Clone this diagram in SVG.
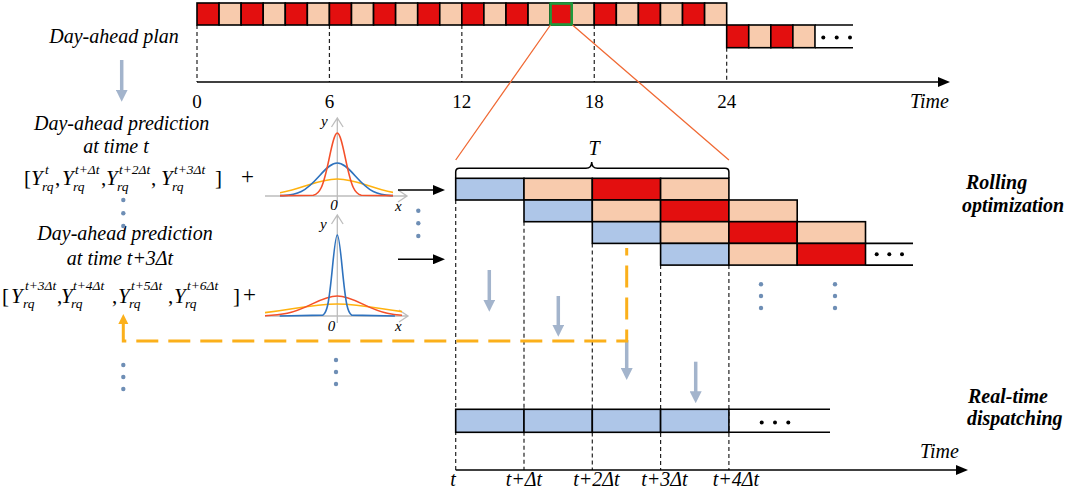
<svg xmlns="http://www.w3.org/2000/svg" width="1072" height="490" viewBox="0 0 1072 490">
<defs>
<style>
.r{fill:#E30F0F;stroke:#000;stroke-width:1.6}
.p{fill:#F8CBAD;stroke:#000;stroke-width:1.6}
.b{fill:#AEC6E8;stroke:#000;stroke-width:1.6}
.ln{fill:none;stroke:#000;stroke-width:1.6}
.dash{fill:none;stroke:#222;stroke-width:1.2;stroke-dasharray:4 3}
.ax{fill:none;stroke:#000;stroke-width:1.5}
.gax{fill:none;stroke:#BDBDBD;stroke-width:1.3}
.ga{fill:none;stroke:#A3B4CC;stroke-width:3.5}
.dot{fill:#6E8EB5}
.bdot{fill:#000}
text{font-family:'Liberation Serif','Times New Roman',Tinos,'DejaVu Serif',serif;fill:#000}
.t{font-style:italic;font-size:20px}
.n{font-size:19px}
.bi{font-style:italic;font-weight:bold;font-size:20px}
.Y{font-style:italic;font-size:21px}
.s{font-size:13.5px}
.up{font-style:normal}
.gl{font-style:italic;font-size:15px}
.gc{fill:none;stroke-width:1.6;vector-effect:non-scaling-stroke}
</style>
<marker id="ab" viewBox="0 0 12 10" refX="1" refY="5" markerWidth="12" markerHeight="10" markerUnits="userSpaceOnUse" orient="auto"><path d="M0,0L12,5L0,10z" fill="#000"/></marker>
<marker id="ag" viewBox="0 0 12 12" refX="3" refY="6" markerWidth="12" markerHeight="12" markerUnits="userSpaceOnUse" orient="auto"><path d="M0,0L12,6L0,12z" fill="#A3B4CC"/></marker>
<marker id="ao" viewBox="0 0 10 10" refX="2" refY="5" markerWidth="10" markerHeight="11" markerUnits="userSpaceOnUse" orient="auto"><path d="M0,0L10,5L0,10z" fill="#FBB01B"/></marker>
<path id="gs" class="gc" d="M-12,0L-3,0.0111C-2.667,0.0222 -2.333,0.0451 -2,0.1353C-1.667,0.2255 -1.333,0.4043 -1,0.6065C-0.667,0.8087 -0.333,1 0,1C0.333,1 0.667,0.8087 1,0.6065C1.333,0.4043 1.667,0.2255 2,0.1353C2.333,0.0451 2.667,0.0222 3,0.0111L12,0"/>
<clipPath id="c1"><rect x="280" y="100" width="113" height="100"/></clipPath>
<clipPath id="c2"><rect x="265" y="220" width="137" height="100"/></clipPath>
</defs>
<rect width="1072" height="490" fill="#fff"/>

<g id="day-ahead-plan">
<g id="grid-top">
<path class="dash" d="M197,25V82M329.42,25V82M461.84,25V82M594.26,25V82M726.68,47.7V82"/>
</g>
<rect class="r" x="197" y="3" width="22.07" height="22"/>
<rect class="p" x="219.07" y="3" width="22.07" height="22"/>
<rect class="r" x="241.14" y="3" width="22.07" height="22"/>
<rect class="p" x="263.21" y="3" width="22.07" height="22"/>
<rect class="r" x="285.28" y="3" width="22.07" height="22"/>
<rect class="p" x="307.35" y="3" width="22.07" height="22"/>
<rect class="r" x="329.42" y="3" width="22.07" height="22"/>
<rect class="p" x="351.49" y="3" width="22.07" height="22"/>
<rect class="r" x="373.56" y="3" width="22.07" height="22"/>
<rect class="p" x="395.63" y="3" width="22.07" height="22"/>
<rect class="r" x="417.7" y="3" width="22.07" height="22"/>
<rect class="p" x="439.77" y="3" width="22.07" height="22"/>
<rect class="r" x="461.84" y="3" width="22.07" height="22"/>
<rect class="p" x="483.91" y="3" width="22.07" height="22"/>
<rect class="r" x="505.98" y="3" width="22.07" height="22"/>
<rect class="p" x="528.05" y="3" width="22.07" height="22"/>
<rect class="r" x="550.12" y="3" width="22.07" height="22"/>
<rect class="p" x="572.19" y="3" width="22.07" height="22"/>
<rect class="r" x="594.26" y="3" width="22.07" height="22"/>
<rect class="p" x="616.33" y="3" width="22.07" height="22"/>
<rect class="r" x="638.4" y="3" width="22.07" height="22"/>
<rect class="p" x="660.47" y="3" width="22.07" height="22"/>
<rect class="r" x="682.54" y="3" width="22.07" height="22"/>
<rect class="p" x="704.61" y="3" width="22.07" height="22"/>
<rect class="r" x="726.68" y="25" width="22.07" height="22.7"/>
<rect class="p" x="748.75" y="25" width="22.07" height="22.7"/>
<rect class="r" x="770.82" y="25" width="22.07" height="22.7"/>
<rect class="p" x="792.89" y="25" width="22.07" height="22.7"/>
<path class="ln" d="M814.96,25H853M814.96,47.7H853"/>
<circle class="bdot" cx="823.3" cy="37.5" r="2"/><circle class="bdot" cx="836.7" cy="37.5" r="2"/><circle class="bdot" cx="850" cy="37.5" r="2"/>
<rect x="550.6" y="3.5" width="21.1" height="21" fill="#E30F0F" stroke="#1E9A3C" stroke-width="2.6"/>
<path class="ax" d="M197,82H939" marker-end="url(#ab)"/>
<text class="n" text-anchor="middle" x="197" y="108">0</text>
<text class="n" text-anchor="middle" x="329.4" y="108">6</text>
<text class="n" text-anchor="middle" x="461.8" y="108">12</text>
<text class="n" text-anchor="middle" x="594.3" y="108">18</text>
<text class="n" text-anchor="middle" x="726.7" y="108">24</text>
<text class="t" x="910" y="108" font-size="19">Time</text>
</g>

<g id="left-text">
<text class="t" text-anchor="middle" x="114" y="43">Day-ahead plan</text>
<text class="t" text-anchor="middle" x="121.7" y="130">Day-ahead prediction</text>
<text class="t" text-anchor="middle" x="116" y="153">at time t</text>
<text class="Y"><tspan class="up" x="24" y="185">[</tspan><tspan x="31" y="185">Y</tspan><tspan class="s" x="45" y="174">t</tspan><tspan class="s" x="42" y="191">rq</tspan><tspan class="up" x="55" y="185">,</tspan><tspan x="62" y="185">Y</tspan><tspan class="s" x="75" y="174">t+Δt</tspan><tspan class="s" x="73" y="191">rq</tspan><tspan class="up" x="101" y="185">,</tspan><tspan x="106" y="185">Y</tspan><tspan class="s" x="119" y="174">t+2Δt</tspan><tspan class="s" x="117" y="191">rq</tspan><tspan class="up" x="151" y="185">,</tspan><tspan x="161" y="185">Y</tspan><tspan class="s" x="174" y="174">t+3Δt</tspan><tspan class="s" x="172" y="191">rq</tspan><tspan class="up" x="215" y="185">]</tspan><tspan class="up" x="241" y="184" font-size="23">+</tspan></text>
<text class="t" text-anchor="middle" x="125" y="240">Day-ahead prediction</text>
<text class="t" text-anchor="middle" x="120" y="265">at time t+3Δt</text>
<text class="Y"><tspan class="up" x="2" y="303">[</tspan><tspan x="11" y="303">Y</tspan><tspan class="s" x="25" y="290">t+3Δt</tspan><tspan class="s" x="23" y="308">rq</tspan><tspan class="up" x="57" y="303">,</tspan><tspan x="61" y="303">Y</tspan><tspan class="s" x="73" y="290">t+4Δt</tspan><tspan class="s" x="71" y="308">rq</tspan><tspan class="up" x="112" y="303">,</tspan><tspan x="118" y="303">Y</tspan><tspan class="s" x="131" y="290">t+5Δt</tspan><tspan class="s" x="129" y="308">rq</tspan><tspan class="up" x="168" y="303">,</tspan><tspan x="174" y="303">Y</tspan><tspan class="s" x="187" y="290">t+6Δt</tspan><tspan class="s" x="185" y="308">rq</tspan><tspan class="up" x="233" y="303">]</tspan><tspan class="up" x="243" y="302" font-size="23">+</tspan></text>
<circle class="dot" cx="123.3" cy="200" r="2.2"/><circle class="dot" cx="123.3" cy="213.3" r="2.2"/><circle class="dot" cx="123.3" cy="226" r="2.2"/>
<circle class="dot" cx="123.3" cy="365" r="2.2"/><circle class="dot" cx="123.3" cy="377" r="2.2"/><circle class="dot" cx="123.3" cy="389" r="2.2"/>
</g>

<g id="gauss-1">
<path class="gax" d="M337.3,203V118M331.5,127L337.3,118L343.1,127M265,196H407M398,190L407,196L398,202"/>
<g clip-path="url(#c1)">
<use href="#gs" stroke="#FFB20F" transform="translate(337.3,196) scale(31.5,-17)"/>
<use href="#gs" stroke="#2E72BE" transform="translate(337.3,196) scale(18,-33)"/>
<use href="#gs" stroke="#F4502A" transform="translate(337.3,196) scale(8,-63)"/>
</g>
<text class="gl" x="321" y="126">y</text>
<text class="gl up" text-anchor="middle" x="334" y="210">0</text>
<text class="gl" x="395" y="211">x</text>
<circle class="dot" cx="418.3" cy="210.7" r="2.2"/><circle class="dot" cx="418.3" cy="223.3" r="2.2"/><circle class="dot" cx="418.3" cy="236" r="2.2"/>
</g>

<g id="gauss-2">
<path class="gax" d="M337.3,323V215M331.5,224L337.3,215L343.1,224M265,316H408M399,310L408,316L399,322"/>
<g clip-path="url(#c2)">
<use href="#gs" stroke="#FFB20F" transform="translate(337.3,316) scale(45,-12)"/>
<use href="#gs" stroke="#F4502A" transform="translate(337.3,316) scale(25,-20)"/>
<use href="#gs" stroke="#2E72BE" transform="translate(337.3,316) scale(4.8,-81)"/>
</g>
<text class="gl" x="320" y="229">y</text>
<text class="gl up" text-anchor="middle" x="331.5" y="331" font-size="16">0</text>
<text class="gl" x="395" y="331">x</text>
<circle class="dot" cx="336" cy="360" r="2.2"/><circle class="dot" cx="336" cy="372" r="2.2"/><circle class="dot" cx="336" cy="384" r="2.2"/>
</g>

<g id="rolling-optimization">
<path class="dash" d="M455.7,200V470M524,221.7V470M592.3,243.4V470M660.6,265.1V470M728.9,265.1V470"/>
<path fill="none" stroke="#000" stroke-width="1.5" d="M455.7,178V172Q455.7,168.3 459.5,168.3H586Q591.7,168.3 591.7,162Q591.7,168.3 597.5,168.3H725Q728.9,168.3 728.9,172V178"/>
<text class="t" text-anchor="middle" x="594" y="155">T</text>
<rect class="b" x="455.7" y="178.3" width="68.3" height="21.7"/>
<rect class="p" x="524" y="178.3" width="68.3" height="21.7"/>
<rect class="r" x="592.3" y="178.3" width="68.3" height="21.7"/>
<rect class="p" x="660.6" y="178.3" width="68.3" height="21.7"/>
<rect class="b" x="524" y="200" width="68.3" height="21.7"/>
<rect class="p" x="592.3" y="200" width="68.3" height="21.7"/>
<rect class="r" x="660.6" y="200" width="68.3" height="21.7"/>
<rect class="p" x="728.9" y="200" width="68.3" height="21.7"/>
<rect class="b" x="592.3" y="221.7" width="68.3" height="21.7"/>
<rect class="p" x="660.6" y="221.7" width="68.3" height="21.7"/>
<rect class="r" x="728.9" y="221.7" width="68.3" height="21.7"/>
<rect class="p" x="797.2" y="221.7" width="68.3" height="21.7"/>
<rect class="b" x="660.6" y="243.4" width="68.3" height="21.7"/>
<rect class="p" x="728.9" y="243.4" width="68.3" height="21.7"/>
<rect class="r" x="797.2" y="243.4" width="68.3" height="21.7"/>
<path class="ln" d="M865.5,243.4H913M865.5,265.1H913"/>
<circle class="bdot" cx="876.7" cy="254.3" r="2"/><circle class="bdot" cx="889.3" cy="254.3" r="2"/><circle class="bdot" cx="902" cy="254.3" r="2"/>
<circle class="dot" cx="761" cy="284.3" r="2.2"/><circle class="dot" cx="761" cy="296" r="2.2"/><circle class="dot" cx="761" cy="308" r="2.2"/>
<circle class="dot" cx="835" cy="284.3" r="2.2"/><circle class="dot" cx="835" cy="296" r="2.2"/><circle class="dot" cx="835" cy="308" r="2.2"/>
<text class="bi" x="966" y="189">Rolling</text>
<text class="bi" x="962" y="212">optimization</text>
</g>

<g id="real-time-dispatching">
<rect class="b" x="455.7" y="409.3" width="68.3" height="23"/>
<rect class="b" x="524" y="409.3" width="68.3" height="23"/>
<rect class="b" x="592.3" y="409.3" width="68.3" height="23"/>
<rect class="b" x="660.6" y="409.3" width="68.3" height="23"/>
<path class="ln" d="M728.9,409.3H830M728.9,432.3H830"/>
<circle class="bdot" cx="761.7" cy="422.5" r="2"/><circle class="bdot" cx="775" cy="422.5" r="2"/><circle class="bdot" cx="788.3" cy="422.5" r="2"/>
<text class="bi" x="968" y="403">Real-time</text>
<text class="bi" x="967" y="425">dispatching</text>
<path class="ax" d="M455.7,470H957" marker-end="url(#ab)"/>
<text class="t" x="920" y="458" font-size="22">Time</text>
<text class="t" text-anchor="middle" x="453" y="486">t</text>
<text class="t" text-anchor="middle" x="524" y="486">t+Δt</text>
<text class="t" text-anchor="middle" x="596.5" y="486">t+2Δt</text>
<text class="t" text-anchor="middle" x="664.5" y="486">t+3Δt</text>
<text class="t" text-anchor="middle" x="736" y="486">t+4Δt</text>
</g>

<g id="connectors">
<path fill="none" stroke="#F06A35" stroke-width="1.3" d="M550.5,25L455.7,160M572.5,25L728.9,160"/>
<path class="ga" d="M121.7,60V92.7" marker-end="url(#ag)"/>
<path class="ax" d="M398,190H434" marker-end="url(#ab)"/>
<path class="ax" d="M398,259.3H434" marker-end="url(#ab)"/>
<path class="ga" d="M489.3,270V302.7" marker-end="url(#ag)"/>
<path class="ga" d="M558.3,296V327.7" marker-end="url(#ag)"/>
<path class="ga" d="M626.7,340V371" marker-end="url(#ag)"/>
<path class="ga" d="M695.7,361.7V394.3" marker-end="url(#ag)"/>
<path fill="none" stroke="#FBB01B" stroke-width="3" stroke-dasharray="22 10" stroke-dashoffset="14.6" d="M626.7,248V341H123.3V322" marker-end="url(#ao)"/>
</g>
</svg>
